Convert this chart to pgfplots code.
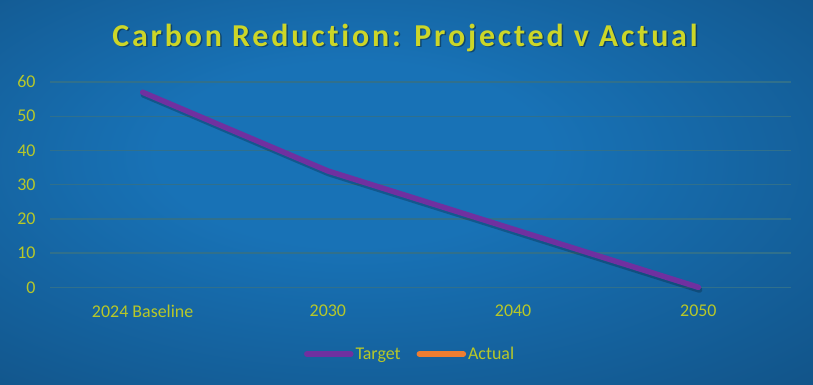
\documentclass[border=0pt]{standalone}
\usepackage{pgfplots}
\pgfplotsset{compat=1.18}
\usepackage{fontspec}
\setmainfont{Carlito}
\newfontfamily\titlefont[LetterSpace=9,Ligatures=NoCommon]{Carlito}
\definecolor{bgin}{RGB}{24,114,182}
\definecolor{bgout}{RGB}{13,62,104}
\definecolor{gridc}{RGB}{48,112,140}
\definecolor{txtc}{RGB}{184,200,40}
\definecolor{titlec}{RGB}{204,214,40}
\definecolor{targetc}{RGB}{112,48,160}
\definecolor{actualc}{RGB}{237,125,49}
\pgfdeclareradialshading{bgshade}{\pgfpoint{-4bp}{6bp}}{color(0bp)=(bgin); color(12bp)=(bgin); color(42bp)=(bgout!65!bgin); color(70bp)=(bgout)}
\begin{document}
\begin{tikzpicture}[x=1bp,y=1bp]
\path[shading=bgshade] (0,0) rectangle (813,384);
\useasboundingbox (0,0) rectangle (813,384);
\begin{axis}[
  at={(50bp,96.7bp)}, anchor=south west,
  width=741bp, height=205.3bp, scale only axis,
  xmin=-0.5, xmax=3.5, ymin=0, ymax=60,
  xtick={0,1,2,3},
  xticklabels={2024 Baseline,2030,2040,2050},
  ytick={0,10,...,60},
  ymajorgrids, grid style={gridc, line width=1.3bp},
  axis line style={draw=none},
  major tick length=0pt,
  tick label style={font=\fontsize{18}{20}\selectfont, text=txtc},
  /pgf/number format/assume math mode=true,
  xticklabel style={yshift=-14bp},
  yticklabel style={xshift=-11bp},
  legend style={at={(0.486,-0.325)}, anchor=center, draw=none, fill=none,
    font=\fontsize{18}{20}\selectfont, text=txtc, legend columns=2,
    /tikz/every even column/.append style={column sep=14bp}},
  legend image code/.code={\draw[#1, line cap=round, line width=5.5bp] (0bp,0bp) -- (44bp,0bp);},
  clip=false,
]
\addplot[black, opacity=0.22, line width=6bp, line join=round, line cap=round, forget plot, transform canvas={xshift=1bp,yshift=-2.5bp}]
  coordinates {(0,57) (1,34) (2,17) (3,0)};
\addplot[targetc, line width=5.5bp, line join=round, line cap=round]
  coordinates {(0,57) (1,34) (2,17) (3,0)};
\addlegendentry{Target}
\addlegendimage{actualc}
\addlegendentry{Actual}
\end{axis}
\node[text=black, opacity=0.35, font=\titlefont\bfseries\fontsize{32}{35}\selectfont] at (406.5,344.5) {Carbon Reduction: Projected v Actual};
\node[text=titlec, font=\titlefont\bfseries\fontsize{32}{35}\selectfont] at (405,346) {Carbon Reduction: Projected v Actual};
\end{tikzpicture}
\end{document}
